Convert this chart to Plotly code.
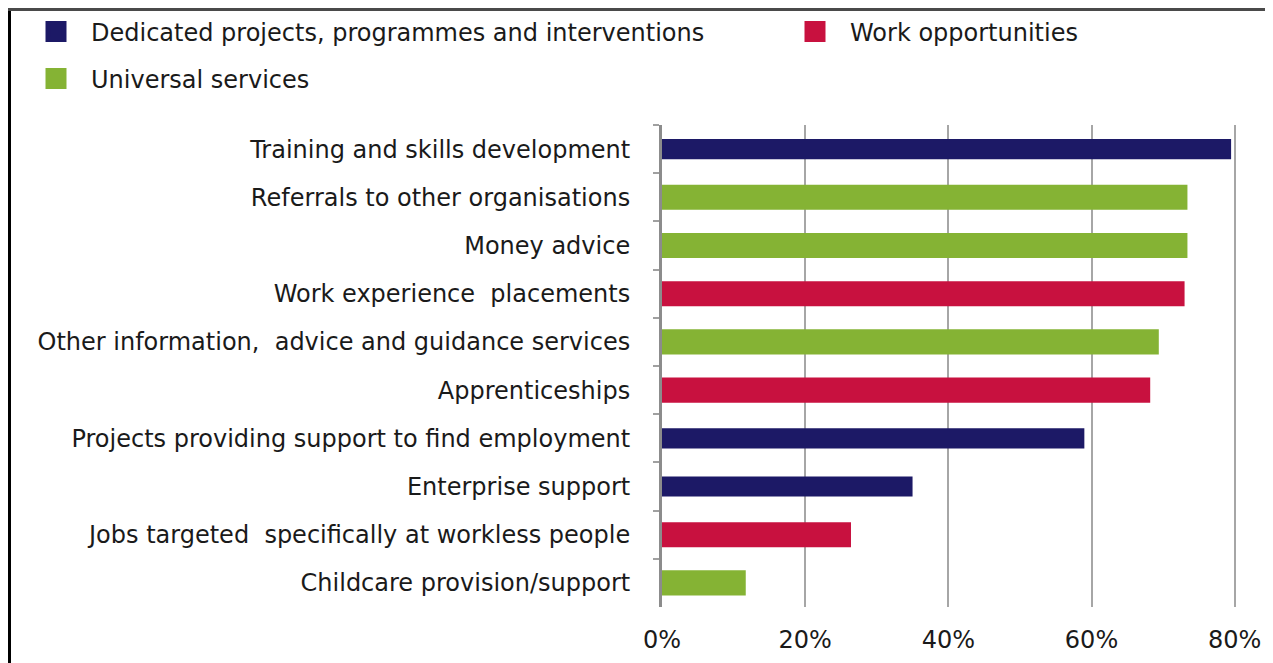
import plotly.graph_objects as go

categories = [
    "Training and skills development",
    "Referrals to other organisations",
    "Money advice",
    "Work experience  placements",
    "Other information,  advice and guidance services",
    "Apprenticeships",
    "Projects providing support to find employment",
    "Enterprise support",
    "Jobs targeted  specifically at workless people",
    "Childcare provision/support",
]
values = [79.5, 73.4, 73.4, 73.0, 69.4, 68.2, 59.0, 35.0, 26.4, 11.7]
groups = ["ded", "uni", "uni", "work", "uni", "work", "ded", "ded", "work", "uni"]

series_keys = ["ded", "work", "uni"]
series_names = {
    "ded": "Dedicated projects, programmes and interventions",
    "work": "Work opportunities",
    "uni": "Universal services",
}
series_colors = {"ded": "#1c1966", "work": "#c8113f", "uni": "#85b334"}
series_widths = {"ded": 0.42, "work": 0.52, "uni": 0.52}
series_legend = {"ded": "legend", "work": "legend2", "uni": "legend3"}

# page body has an 8px margin, so the figure is 8px smaller than the window
W, H = 1265, 655
ML, MR, MT, MB = 654, 24, 117, 56
XMAX = 82
FONT = "DejaVu Sans"
TXT = "#1a1a1a"
FS = 24

fig = go.Figure()
for k in series_keys:
    xs = [v if g == k else None for v, g in zip(values, groups)]
    fig.add_trace(go.Bar(
        x=xs, y=categories, orientation="h",
        marker=dict(color=series_colors[k], line=dict(width=0)),
        width=series_widths[k], showlegend=False, hoverinfo="x+y",
    ))

for k in series_keys:
    # legend-only entry with a larger square swatch
    fig.add_trace(go.Scatter(
        x=[None], y=[None], mode="markers", name=series_names[k],
        marker=dict(symbol="square", size=16, color=series_colors[k],
                    line=dict(color=series_colors[k], width=5)),
        legend=series_legend[k], showlegend=True, hoverinfo="skip",
    ))

legend_common = dict(
    xref="container", yref="container", xanchor="left", yanchor="middle",
    font=dict(family=FONT, size=FS, color=TXT), bgcolor="rgba(0,0,0,0)",
    itemwidth=60, itemsizing="trace",
)
fig.update_layout(
    width=W, height=H,
    margin=dict(l=ML, r=MR, t=MT, b=MB, autoexpand=False),
    paper_bgcolor="white", plot_bgcolor="white",
    barmode="overlay",
    font=dict(family=FONT, size=FS, color=TXT),
    legend=dict(x=13 / W, y=1 - 24 / H, **legend_common),
    legend2=dict(x=772 / W, y=1 - 24 / H, **legend_common),
    legend3=dict(x=13 / W, y=1 - 71 / H, **legend_common),
    xaxis=dict(
        range=[0, XMAX], tickmode="linear", tick0=0, dtick=20, ticksuffix="%", tickangle=0,
        showgrid=True, gridcolor="#a6a6a6", gridwidth=2,
        zeroline=False, showline=False, ticks="", automargin=False,
        ticklabelstandoff=16, fixedrange=True,
    ),
    yaxis=dict(
        type="category", autorange="reversed", automargin=False,
        showline=True, linecolor="#8c8c8c", linewidth=3,
        ticks="outside", tickson="boundaries", ticklen=6, tickcolor="#a0a0a0", tickwidth=2,
        showgrid=False, ticklabelstandoff=24, fixedrange=True,
    ),
)

# outer frame lines (left black, top dark grey) in paper coordinates
pw = W - ML - MR
ph = H - MT - MB
def px_x(p):
    return (p - ML) / pw
def px_y(p):
    return (H - MB - p) / ph
fig.add_shape(type="line", xref="paper", yref="paper",
              x0=px_x(1.5), x1=px_x(1.5), y0=px_y(0), y1=px_y(H + 5),
              line=dict(color="#000000", width=3))
fig.add_shape(type="line", xref="paper", yref="paper",
              x0=px_x(0), x1=px_x(W + 5), y0=px_y(1.5), y1=px_y(1.5),
              line=dict(color="#4a4a4a", width=3))

fig.write_html("out.html")
